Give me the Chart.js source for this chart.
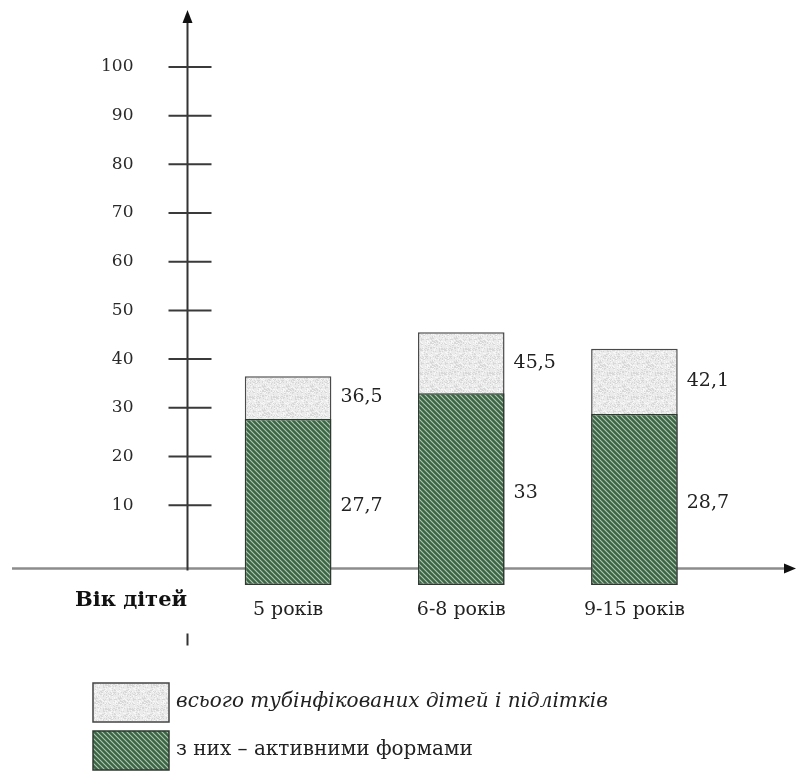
<!DOCTYPE html>
<html>
<head>
<meta charset="utf-8">
<script src="https://cdn.jsdelivr.net/npm/chart.js"></script>
<style>
  html, body { margin: 0; padding: 0; background: #fff; }
</style>
</head>
<body>
<canvas id="myChart" width="797" height="773"></canvas>
<script>
// Data
const ageGroups = ['5 років', '6-8 років', '9-15 років'];
const totalInfected = [36.5, 45.5, 42.1];   // всього тубінфікованих
const activeForms = [27.7, 33, 28.7];       // з них - активними формами
const yTicks = [10, 20, 30, 40, 50, 60, 70, 80, 90, 100];
const seriesNames = ['всього тубінфікованих дітей і підлітків', 'з них – активними формами'];
const axisTitle = 'Вік дітей';

const yMin = -6.4, yMax = 111.7; // bars start a little below the drawn x axis
const axisLineValue = -3;        // where the horizontal axis line sits
const serif = "'DejaVu Serif', 'Liberation Serif', serif";
const textColor = '#222';

// fill patterns
function hatchPattern() {
  const c = document.createElement('canvas');
  c.width = 5; c.height = 5;
  const g = c.getContext('2d');
  g.fillStyle = '#3b6645';
  g.fillRect(0, 0, 5, 5);
  g.strokeStyle = '#b3c8b4';
  g.lineWidth = 1.1;
  g.beginPath();
  g.moveTo(-1, -1); g.lineTo(6, 6);
  g.moveTo(-6, -1); g.lineTo(1, 6);
  g.moveTo(4, -1); g.lineTo(11, 6);
  g.stroke();
  return g.createPattern(c, 'repeat');
}

function specklePattern() {
  const n = 24;
  const c = document.createElement('canvas');
  c.width = n; c.height = n;
  const g = c.getContext('2d');
  g.fillStyle = '#ebebeb';
  g.fillRect(0, 0, n, n);
  for (let i = 0; i < n; i++) {
    for (let j = 0; j < n; j++) {
      const h = Math.sin(i * 12.9898 + j * 78.233) * 43758.5453;
      const f = h - Math.floor(h);
      if (f < 0.22) { g.fillStyle = '#d8d8d8'; g.fillRect(i, j, 1, 1); }
      else if (f > 0.86) { g.fillStyle = '#f8f8f8'; g.fillRect(i, j, 1, 1); }
    }
  }
  return g.createPattern(c, 'repeat');
}

const greenFill = hatchPattern();
const greyFill = specklePattern();

const fmt = v => String(v).replace('.', ',');

// axes with arrows, drawn under the bars
const axesPlugin = {
  id: 'axesPlugin',
  beforeDatasetsDraw(chart) {
    const { ctx, chartArea, scales: { y } } = chart;
    const ax = chartArea.left - 14;
    const ay = y.getPixelForValue(axisLineValue);
    ctx.save();
    // horizontal axis
    ctx.strokeStyle = '#8c8c8c';
    ctx.lineWidth = 2.5;
    ctx.beginPath();
    ctx.moveTo(12, ay); ctx.lineTo(786, ay);
    ctx.stroke();
    ctx.fillStyle = '#111';
    ctx.beginPath();
    ctx.moveTo(796, ay); ctx.lineTo(784, ay - 5); ctx.lineTo(784, ay + 5);
    ctx.closePath(); ctx.fill();
    // vertical axis
    ctx.strokeStyle = '#333';
    ctx.lineWidth = 2;
    ctx.beginPath();
    ctx.moveTo(ax, chartArea.top + 8); ctx.lineTo(ax, ay + 2);
    ctx.moveTo(ax, ay + 65); ctx.lineTo(ax, ay + 77);
    ctx.stroke();
    ctx.fillStyle = '#111';
    ctx.beginPath();
    ctx.moveTo(ax, chartArea.top); ctx.lineTo(ax - 5, chartArea.top + 13); ctx.lineTo(ax + 5, chartArea.top + 13);
    ctx.closePath(); ctx.fill();
    // tick marks
    ctx.strokeStyle = '#3a3a3a';
    ctx.lineWidth = 2;
    ctx.beginPath();
    yTicks.forEach(v => {
      const py = y.getPixelForValue(v);
      ctx.moveTo(ax - 19, py); ctx.lineTo(ax + 24, py);
    });
    ctx.stroke();
    ctx.restore();
  },
  afterDatasetsDraw(chart) {
    const { ctx, chartArea, scales: { y } } = chart;
    const greenMeta = chart.getDatasetMeta(0);
    ctx.save();
    ctx.fillStyle = textColor;
    ctx.font = '19px ' + serif;
    ctx.textAlign = 'left';
    ctx.textBaseline = 'middle';
    greenMeta.data.forEach((bar, i) => {
      const right = bar.x + bar.width / 2 + 9;
      const pTotal = y.getPixelForValue(totalInfected[i]);
      const pActive = y.getPixelForValue(activeForms[i]);
      ctx.fillText(fmt(totalInfected[i]), right, (pTotal + pActive) / 2);
      ctx.fillText(fmt(activeForms[i]), right, (pActive + chartArea.bottom) / 2 + 4);
    });

    // axis caption
    ctx.font = 'bold 21px ' + serif;
    ctx.textAlign = 'center';
    ctx.fillStyle = '#111';
    ctx.fillText(axisTitle, 131, 601);

    // legend
    const boxes = [
      { fill: greyFill, border: '#444', text: seriesNames[0], font: 'italic 20px ' + serif, y: 683 },
      { fill: greenFill, border: '#2e3a30', text: seriesNames[1], font: '20px ' + serif, y: 731 }
    ];
    boxes.forEach(b => {
      ctx.fillStyle = b.fill;
      ctx.fillRect(93, b.y, 76, 39);
      ctx.strokeStyle = b.border;
      ctx.lineWidth = 1.5;
      ctx.strokeRect(93, b.y, 76, 39);
      ctx.fillStyle = textColor;
      ctx.font = b.font;
      ctx.textAlign = 'left';
      ctx.fillText(b.text, 176, b.y + 19);
    });
    ctx.restore();
  }
};

new Chart(document.getElementById('myChart'), {
  type: 'bar',
  data: {
    labels: ageGroups,
    datasets: [
      {
        label: seriesNames[1],
        data: activeForms,
        backgroundColor: greenFill,
        borderColor: '#2e3a30',
        borderWidth: 1.5,
        borderSkipped: false,
        base: yMin,
        grouped: false,
        barPercentage: 0.5,
        categoryPercentage: 1
      },
      {
        label: seriesNames[0],
        data: totalInfected,
        backgroundColor: greyFill,
        borderColor: '#4a4a4a',
        borderWidth: 1.5,
        borderSkipped: false,
        base: yMin,
        grouped: false,
        barPercentage: 0.5,
        categoryPercentage: 1
      }
    ]
  },
  options: {
    responsive: false,
    animation: false,
    events: [],
    layout: { padding: { top: 10, right: 76, left: 0, bottom: 0 } },
    plugins: {
      legend: { display: false },
      tooltip: { enabled: false }
    },
    scales: {
      x: {
        grid: { display: false },
        border: { display: false },
        ticks: { font: { family: serif, size: 19 }, color: textColor, padding: 6, maxRotation: 0 },
        afterFit(s) { s.height = 188; s.paddingLeft = 0; s.paddingRight = 0; }
      },
      y: {
        min: yMin,
        max: yMax,
        grid: { display: false },
        border: { display: false },
        afterBuildTicks(s) { s.ticks = yTicks.map(v => ({ value: v })); },
        ticks: { font: { family: serif, size: 17 }, color: '#2a2a2a', padding: 60 },
        afterFit(s) { s.width = 201.5; s.paddingTop = 0; s.paddingBottom = 0; }
      }
    }
  },
  plugins: [axesPlugin]
});
</script>
</body>
</html>
